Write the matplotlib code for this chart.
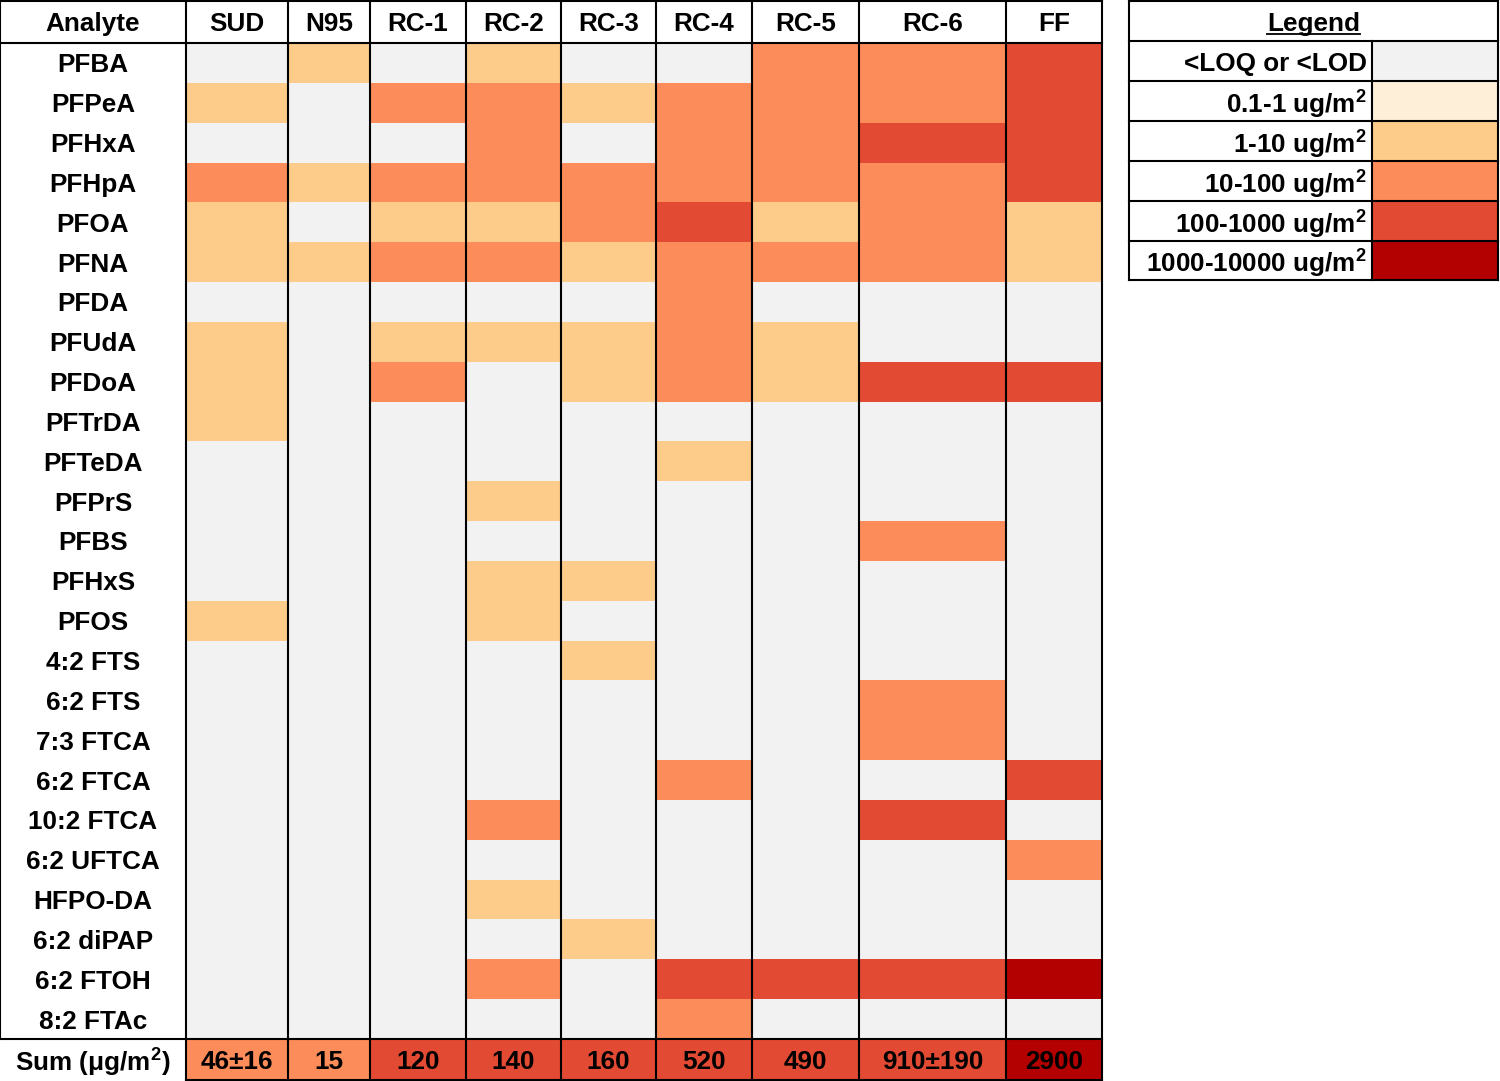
import numpy as np
import matplotlib
matplotlib.use('Agg')
import matplotlib.pyplot as plt
from matplotlib.patches import Rectangle

plt.rcParams['font.family'] = ['Liberation Sans', 'DejaVu Sans']
plt.rcParams['font.weight'] = 'bold'
plt.rcParams['mathtext.fontset'] = 'custom'
plt.rcParams['mathtext.rm'] = 'Liberation Sans:bold'
plt.rcParams['mathtext.bf'] = 'Liberation Sans:bold'

samples = ['SUD', 'N95', 'RC-1', 'RC-2', 'RC-3', 'RC-4', 'RC-5', 'RC-6', 'FF']
analytes = ['PFBA', 'PFPeA', 'PFHxA', 'PFHpA', 'PFOA', 'PFNA', 'PFDA', 'PFUdA',
            'PFDoA', 'PFTrDA', 'PFTeDA', 'PFPrS', 'PFBS', 'PFHxS', 'PFOS',
            '4:2 FTS', '6:2 FTS', '7:3 FTCA', '6:2 FTCA', '10:2 FTCA',
            '6:2 UFTCA', 'HFPO-DA', '6:2 diPAP', '6:2 FTOH', '8:2 FTAc']

# concentration class: 0 <LOQ, 1 0.1-1, 2 1-10, 3 10-100, 4 100-1000, 5 1000-10000
levels = [
    [0, 2, 0, 2, 0, 0, 3, 3, 4],  # PFBA
    [2, 0, 3, 3, 2, 3, 3, 3, 4],  # PFPeA
    [0, 0, 0, 3, 0, 3, 3, 4, 4],  # PFHxA
    [3, 2, 3, 3, 3, 3, 3, 3, 4],  # PFHpA
    [2, 0, 2, 2, 3, 4, 2, 3, 2],  # PFOA
    [2, 2, 3, 3, 2, 3, 3, 3, 2],  # PFNA
    [0, 0, 0, 0, 0, 3, 0, 0, 0],  # PFDA
    [2, 0, 2, 2, 2, 3, 2, 0, 0],  # PFUdA
    [2, 0, 3, 0, 2, 3, 2, 4, 4],  # PFDoA
    [2, 0, 0, 0, 0, 0, 0, 0, 0],  # PFTrDA
    [0, 0, 0, 0, 0, 2, 0, 0, 0],  # PFTeDA
    [0, 0, 0, 2, 0, 0, 0, 0, 0],  # PFPrS
    [0, 0, 0, 0, 0, 0, 0, 3, 0],  # PFBS
    [0, 0, 0, 2, 2, 0, 0, 0, 0],  # PFHxS
    [2, 0, 0, 2, 0, 0, 0, 0, 0],  # PFOS
    [0, 0, 0, 0, 2, 0, 0, 0, 0],  # 4:2 FTS
    [0, 0, 0, 0, 0, 0, 0, 3, 0],  # 6:2 FTS
    [0, 0, 0, 0, 0, 0, 0, 3, 0],  # 7:3 FTCA
    [0, 0, 0, 0, 0, 3, 0, 0, 4],  # 6:2 FTCA
    [0, 0, 0, 3, 0, 0, 0, 4, 0],  # 10:2 FTCA
    [0, 0, 0, 0, 0, 0, 0, 0, 3],  # 6:2 UFTCA
    [0, 0, 0, 2, 0, 0, 0, 0, 0],  # HFPO-DA
    [0, 0, 0, 0, 2, 0, 0, 0, 0],  # 6:2 diPAP
    [0, 0, 0, 3, 0, 4, 4, 4, 5],  # 6:2 FTOH
    [0, 0, 0, 0, 0, 3, 0, 0, 0],  # 8:2 FTAc
]
sum_labels = ['46±16', '15', '120', '140', '160', '520', '490', '910±190', '2900']
sum_levels = [3, 3, 4, 4, 4, 4, 4, 4, 5]

legend_labels = ['<LOQ or <LOD', r'0.1-1 ug/m$^{2}$', r'1-10 ug/m$^{2}$',
                 r'10-100 ug/m$^{2}$', r'100-1000 ug/m$^{2}$', r'1000-10000 ug/m$^{2}$']
colors = ['#f2f2f2', '#feefd9', '#fdcb8a', '#fc8c59', '#e34a33', '#b30000']

# layout (pixel coords)
col_edges = [0, 186, 288, 370, 466, 561, 656, 752, 859, 1006, 1102]
head_h = 43
row_top = 43
row_h = (1039 - 43) / len(analytes)
sum_top, sum_bot = 1039, 1080
fs = 18.8
dy = 2.5  # nudge text down to match

fig = plt.figure(figsize=(15, 10.81), dpi=100)
ax = fig.add_axes([0, 0, 1, 1])
ax.set_xlim(0, 1500)
ax.set_ylim(1081, 0)
ax.axis('off')

lw = 1.5
# header
ax.text((col_edges[0] + col_edges[1]) / 2, head_h / 2 + dy, 'Analyte', ha='center', va='center', fontsize=fs)
for j, s in enumerate(samples):
    ax.text((col_edges[j + 1] + col_edges[j + 2]) / 2, head_h / 2 + dy, s, ha='center', va='center', fontsize=fs)

# body cells
for i, a in enumerate(analytes):
    y0 = row_top + i * row_h
    ax.text(93, y0 + row_h / 2 + dy, a, ha='center', va='center', fontsize=fs)
    for j, lev in enumerate(levels[i]):
        x0, x1 = col_edges[j + 1], col_edges[j + 2]
        ax.add_patch(Rectangle((x0, y0), x1 - x0, row_h + 0.5, facecolor=colors[lev], edgecolor='none'))

# sum row
ax.text(93, (sum_top + sum_bot) / 2 + dy, 'Sum (μg/m$^{2}$)', ha='center', va='center', fontsize=fs)
for j, (lab, lev) in enumerate(zip(sum_labels, sum_levels)):
    x0, x1 = col_edges[j + 1], col_edges[j + 2]
    ax.add_patch(Rectangle((x0, sum_top), x1 - x0, sum_bot - sum_top, facecolor=colors[lev], edgecolor='none'))
    ax.text((x0 + x1) / 2, (sum_top + sum_bot) / 2 + dy, lab, ha='center', va='center', fontsize=fs)

# grid lines
for k, x in enumerate(col_edges):
    ybot = sum_top if k == 0 else sum_bot
    ax.plot([x, x], [1, ybot], color='black', lw=lw, solid_capstyle='projecting')
ax.plot([0, col_edges[-1]], [1, 1], color='black', lw=lw)
ax.plot([0, col_edges[-1]], [head_h, head_h], color='black', lw=lw)
ax.plot([0, col_edges[-1]], [sum_top, sum_top], color='black', lw=lw)
ax.plot([col_edges[1], col_edges[-1]], [sum_bot, sum_bot], color='black', lw=lw)

# legend box
lx0, lx1, lx2 = 1129, 1372, 1498
ly = [1, 41, 81, 121, 161, 201, 241, 280]
title = ax.text((lx0 + lx2) / 2, 21 + dy, 'Legend', ha='center', va='center', fontsize=fs)
fig.canvas.draw()
bb = title.get_window_extent().transformed(ax.transData.inverted())
ax.plot([bb.x0, bb.x1], [34, 34], color='black', lw=1.3)
for k, (lab, c) in enumerate(zip(legend_labels, colors)):
    ax.add_patch(Rectangle((lx1, ly[k + 1]), lx2 - lx1, ly[k + 2] - ly[k + 1], facecolor=c, edgecolor='none'))
    ax.text(lx1 - 5, (ly[k + 1] + ly[k + 2]) / 2 + dy, lab, ha='right', va='center', fontsize=fs)
for y in ly:
    ax.plot([lx0, lx2], [y, y], color='black', lw=lw)
ax.plot([lx0, lx0], [ly[0], ly[-1]], color='black', lw=lw)
ax.plot([lx2, lx2], [ly[0], ly[-1]], color='black', lw=lw)
ax.plot([lx1, lx1], [ly[1], ly[-1]], color='black', lw=lw)

fig.savefig('out.png', dpi=100)
